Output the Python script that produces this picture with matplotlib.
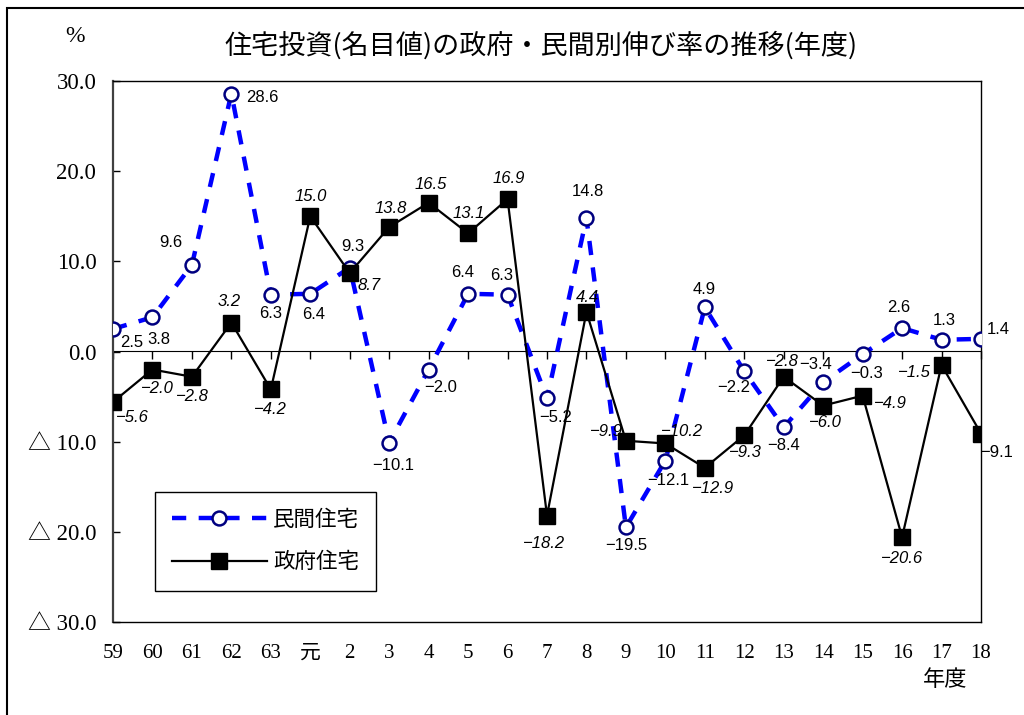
import matplotlib
matplotlib.use("Agg")
import matplotlib.pyplot as plt
from matplotlib.patches import Rectangle

# Fiscal years (Showa 59 .. Heisei 18)
years = ["59", "60", "61", "62", "63", "元", "2", "3", "4", "5", "6", "7",
         "8", "9", "10", "11", "12", "13", "14", "15", "16", "17", "18"]

# Growth rates (%)
private = [2.5, 3.8, 9.6, 28.6, 6.3, 6.4, 9.3, -10.1, -2.0, 6.4, 6.3, -5.2,
           14.8, -19.5, -12.1, 4.9, -2.2, -8.4, -3.4, -0.3, 2.6, 1.3, 1.4]
government = [-5.6, -2.0, -2.8, 3.2, -4.2, 15.0, 8.7, 13.8, 16.5, 13.1, 16.9, -18.2,
              4.4, -9.9, -10.2, -12.9, -9.3, -2.8, -6.0, -4.9, -20.6, -1.5, -9.1]

y_ticks = [30, 20, 10, 0, -10, -20, -30]
y_labels = ["30.0", "20.0", "10.0", "0.0", "△ 10.0", "△ 20.0", "△ 30.0"]

# label placement (pixel offsets from each point)
private_off = [(19, -14), (6, -22), (-21, 22), (31, -4), (0, -19), (3, -21), (3, 21),
               (4, -23), (12, -18), (-5, 21), (-6, 19), (9, -19), (1, 27), (0, -18),
               (3, -20), (-1, 18), (-11, -16), (0, -18), (-8, 18), (4, -19), (-3, 21),
               (3, 19), (17, 9)]
gov_off = [(19, -16), (5, -19), (0, -20), (-2, 21), (0, -20), (0, 20), (19, -12),
           (2, 19), (2, 18), (1, 20), (1, 21), (-3, -28), (1, 14), (-20, 9),
           (17, 12), (8, -21), (1, -17), (-1, 15), (2, -17), (28, -8), (0, -21),
           (-27, -7), (16, -19)]

serif_fam = ["Liberation Serif", "Noto Sans CJK JP"]
cjk_fam = ["Noto Sans CJK JP", "DejaVu Sans"]
label_fam = ["Liberation Sans", "DejaVu Sans"]

fig = plt.figure(figsize=(10.24, 7.15), dpi=100)
ax = fig.add_axes([113 / 1024, 93 / 715, 868 / 1024, 541 / 715])

x = list(range(len(years)))

ax.plot(x, private, color="#0000FF", lw=3.2, dashes=(3.2, 2.8),
        marker="o", ms=10, mfc="white", mec="#000080", mew=1.8,
        label="民間住宅", zorder=3)
ax.plot(x, government, color="black", lw=1.6,
        marker="s", ms=11.5, mfc="black", mec="black",
        label="政府住宅", zorder=4)

for i, v in enumerate(private):
    ax.annotate(f"{v:.1f}".replace("-", "−"), (i, v), xytext=private_off[i],
                textcoords="offset pixels", ha="center", va="center",
                fontsize=12, family=label_fam, zorder=6)
for i, v in enumerate(government):
    style = "normal" if i == len(government) - 1 else "italic"
    ax.annotate(f"{v:.1f}".replace("-", "−"), (i, v), xytext=gov_off[i],
                textcoords="offset pixels", ha="center", va="center",
                fontsize=12, family=label_fam, style=style, zorder=6)

ax.set_xlim(0, len(years) - 1)
ax.set_ylim(-30, 30)
ax.set_yticks(y_ticks)
ax.set_yticklabels(y_labels, family=serif_fam, fontsize=16.5)
ax.tick_params(axis="y", direction="in", length=5, width=1, pad=12)
ax.set_xticks(x)
ax.set_xticklabels(years, family=serif_fam, fontsize=15)
ax.tick_params(axis="x", length=0, pad=16)

for s in ax.spines.values():
    s.set_linewidth(1.0)
    s.set_color("black")
ax.spines["left"].set_color("#404040")
ax.spines["left"].set_linewidth(1.6)

# zero line with category ticks
zero_axis = ax.secondary_xaxis(0.5)
zero_axis.set_xticks(x)
zero_axis.tick_params(direction="in", length=6, width=1, labelbottom=False)
zero_axis.set_xticklabels([])
zero_axis.spines["bottom"].set_linewidth(1.0)

leg = ax.legend(loc="upper left", bbox_to_anchor=(0.048, 0.241), borderaxespad=0,
                fancybox=False, edgecolor="black", framealpha=1,
                prop={"family": cjk_fam, "size": 15.5}, handlelength=4.4,
                handletextpad=0.3, borderpad=0.8, labelspacing=0.95)
leg.get_frame().set_linewidth(1.0)

fig.text(541 / 1024, 1 - 45 / 715, "住宅投資(名目値)の政府・民間別伸び率の推移(年度)",
         ha="center", va="center", fontsize=19.5, family=cjk_fam)
fig.text(75 / 1024, 1 - 37 / 715, "%", ha="center", va="center",
         fontsize=17, family=serif_fam)
fig.text(945 / 1024, 1 - 680 / 715, "年度", ha="center", va="center",
         fontsize=16, family=cjk_fam)

fig.add_artist(Rectangle((7 / 1024, -0.02), 1.2, 1.02 - 8 / 715,
                         transform=fig.transFigure, fill=False, lw=1.5,
                         edgecolor="black"))

fig.savefig("out.png", dpi=100)
